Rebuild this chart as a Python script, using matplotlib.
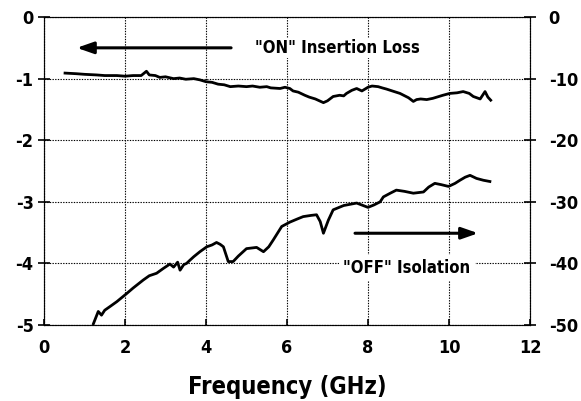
import matplotlib
matplotlib.use("Agg")
import matplotlib.pyplot as plt

FONT = ['DejaVu Sans']

# "ON" insertion loss (left axis, dB)
on_freq = [0.52, 0.8, 1.0, 1.3, 1.5, 1.8, 2.0, 2.2, 2.4, 2.53, 2.6, 2.75, 2.86, 3.0, 3.2,
           3.35, 3.5, 3.7, 3.85, 4.0, 4.15, 4.3, 4.45, 4.6, 4.8, 5.0, 5.15,
           5.33, 5.5, 5.6, 5.83, 5.95, 6.07, 6.15, 6.28, 6.44, 6.55, 6.7, 6.9, 7.0, 7.14,
           7.3, 7.4, 7.47, 7.6, 7.72, 7.85, 8.0, 8.1, 8.25, 8.35, 8.46, 8.6, 8.79, 9.0,
           9.12, 9.2, 9.3, 9.45, 9.6, 9.7, 9.85, 10.02, 10.2, 10.35, 10.5, 10.6,
           10.77, 10.89, 10.96, 11.03]
on_loss = [-0.91, -0.92, -0.93, -0.94, -0.95, -0.95, -0.96, -0.95, -0.95, -0.88, -0.94,
           -0.95, -0.98, -0.97, -1.0, -0.99, -1.01, -1.0, -1.02, -1.05, -1.06, -1.09,
           -1.1, -1.13, -1.12, -1.13, -1.12, -1.14, -1.13, -1.15, -1.16, -1.14, -1.16,
           -1.2, -1.22, -1.27, -1.3, -1.33, -1.39, -1.36, -1.29, -1.27, -1.28, -1.24,
           -1.19, -1.16, -1.2, -1.14, -1.12, -1.13, -1.15, -1.17, -1.2, -1.24, -1.31,
           -1.37, -1.34, -1.33, -1.34, -1.32, -1.30, -1.27, -1.24, -1.23, -1.21, -1.24,
           -1.29, -1.33, -1.21, -1.3, -1.35]

# "OFF" isolation (right axis, dB)
off_freq = [1.22, 1.34, 1.42, 1.5, 1.63, 1.8, 2.04, 2.2, 2.45, 2.6, 2.78, 2.95, 3.11,
            3.2, 3.3, 3.36, 3.45, 3.52, 3.6, 3.7, 3.85, 4.02, 4.15, 4.26, 4.35,
            4.43, 4.55, 4.67, 4.8, 5.0, 5.25, 5.42, 5.55, 5.66, 5.87, 6.07, 6.25, 6.4,
            6.6, 6.73, 6.82, 6.9, 7.02, 7.14, 7.4, 7.72, 8.0, 8.15, 8.3, 8.38, 8.55, 8.7,
            8.9, 9.12, 9.37, 9.5, 9.65, 9.8, 9.99, 10.15, 10.27, 10.4, 10.52, 10.68,
            10.85, 11.01]
off_iso = [-49.8, -47.8, -48.4, -47.6, -47.0, -46.2, -44.9, -44.0, -42.7, -42.0, -41.6,
           -40.8, -40.1, -40.6, -39.8, -41.1, -40.2, -40.0, -39.5, -38.9, -38.1, -37.3,
           -37.0, -36.6, -36.9, -37.3, -39.7, -39.7, -38.8, -37.6, -37.4, -38.1, -37.3,
           -36.2, -34.0, -33.3, -32.8, -32.4, -32.2, -32.1, -33.2, -35.1, -33.0, -31.3,
           -30.6, -30.2, -30.9, -30.5, -30.0, -29.2, -28.6, -28.1, -28.3, -28.6, -28.4,
           -27.6, -27.0, -27.2, -27.5, -27.0, -26.5, -26.0, -25.7, -26.2, -26.5, -26.7]

x_ticks = [0, 2, 4, 6, 8, 10, 12]
left_ticks = [0, -1, -2, -3, -4, -5]
right_ticks = [0, -10, -20, -30, -40, -50]

fig = plt.figure(figsize=(5.81, 4.01), dpi=100)
ax = fig.add_axes([0.0757, 0.1895, 0.8365, 0.768])
ax2 = ax.twinx()

ax.plot(on_freq, on_loss, color='black', lw=2.0, zorder=3)
ax2.plot(off_freq, off_iso, color='black', lw=2.0, zorder=3)

ax.set_xlim(0, 12)
ax.set_ylim(-5, 0)
ax2.set_ylim(-50, 0)
ax.set_xticks(x_ticks)
ax.set_xticklabels([str(t) for t in x_ticks])
ax.set_yticks(left_ticks)
ax.set_yticklabels([str(t) for t in left_ticks])
ax2.set_yticks(right_ticks)
ax2.set_yticklabels([str(t) for t in right_ticks])

ax.grid(True, color='black', linestyle=(0, (1.2, 1.2)), linewidth=0.8)
for a in (ax, ax2):
    for s in a.spines.values():
        s.set_linestyle((0, (1.2, 1.2)))
        s.set_linewidth(0.8)

ax.tick_params(axis='y', direction='inout', length=9, width=1.2, pad=3)
ax2.tick_params(axis='y', direction='inout', length=9, width=1.2, pad=9)
ax.tick_params(axis='x', direction='in', length=4, width=1.2, pad=10)

for lab in ax.get_xticklabels() + ax.get_yticklabels() + ax2.get_yticklabels():
    lab.set_family(FONT)
    lab.set_fontweight('bold')
    lab.set_fontstretch('condensed')
    lab.set_fontsize(13)

ax.set_xlabel('Frequency (GHz)', family=FONT, fontweight='bold', fontstretch='condensed',
              fontsize=17, labelpad=13)

# Annotations
ax.annotate('', xy=(0.81, -0.5), xytext=(4.62, -0.5),
            arrowprops=dict(arrowstyle='-|>,head_length=1.0,head_width=0.35',
                            color='black', lw=2.2, shrinkA=0, shrinkB=0), zorder=4)
ax.text(5.2, -0.5, '"ON" Insertion Loss', family=FONT, fontweight='bold',
        fontstretch='condensed', fontsize=12,
        ha='left', va='center', zorder=4,
        bbox=dict(facecolor='white', edgecolor='none', pad=1))
ax.annotate('', xy=(10.72, -3.51), xytext=(7.68, -3.51),
            arrowprops=dict(arrowstyle='-|>,head_length=1.0,head_width=0.35',
                            color='black', lw=2.2, shrinkA=0, shrinkB=0), zorder=4)
ax.text(8.96, -4.07, '"OFF" Isolation', family=FONT, fontweight='bold',
        fontstretch='condensed', fontsize=12,
        ha='center', va='center', zorder=4,
        bbox=dict(facecolor='white', edgecolor='none', pad=3))

fig.savefig('out.png', dpi=100)
